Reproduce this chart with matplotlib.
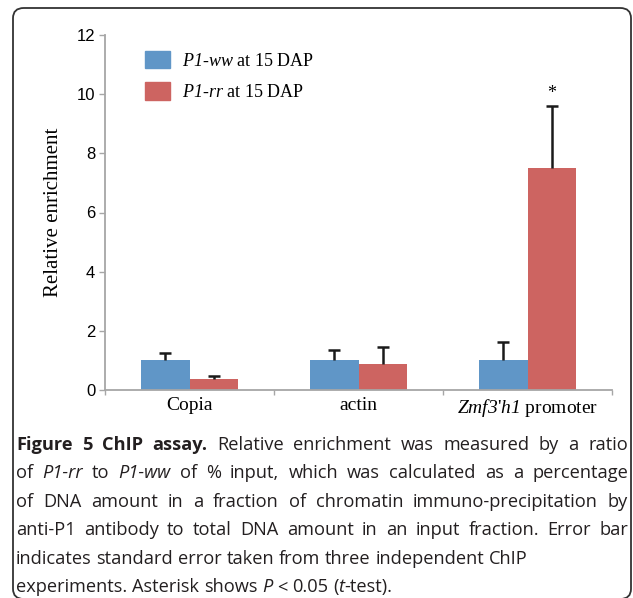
import numpy as np
import matplotlib

matplotlib.use("Agg")
import matplotlib.pyplot as plt
from matplotlib.patches import FancyBboxPatch, Patch

plt.rcParams["mathtext.fontset"] = "custom"
plt.rcParams["mathtext.rm"] = "Liberation Serif"
plt.rcParams["mathtext.sf"] = "Liberation Serif:italic"

# data
categories = ["Copia", "actin", r"$\mathsf{Zmf3}$'$\mathsf{h1}$ promoter"]
ww_values = [1.0, 1.0, 1.0]
ww_err = [0.25, 0.35, 0.62]
rr_values = [0.37, 0.87, 7.5]
rr_err = [0.10, 0.57, 2.1]
series_labels = [r"$\mathsf{P1\text{-}ww}$ at 15 DAP", r"$\mathsf{P1\text{-}rr}$ at 15 DAP"]
yticks = [0, 2, 4, 6, 8, 10, 12]

blue = "#6096c7"
red = "#cd6461"
axis_grey = "#a6a6a6"
err_col = "#1a1a1a"

W, H = 633, 598
fig = plt.figure(figsize=(W / 100, H / 100), dpi=100)

# rounded frame around the figure panel
frame = FancyBboxPatch((13 / W, -1 / H), (631 - 13) / W, (599 - 8) / H,
                       boxstyle="round,pad=0,rounding_size=0.017",
                       transform=fig.transFigure, fill=False,
                       edgecolor="#333333", linewidth=1.3)
fig.patches.append(frame)

ax = fig.add_axes([105 / W, 1 - 390 / H, (612 - 105) / W, (390 - 35) / H])
x = np.arange(len(categories))
bw = 0.285
ax.bar(x - bw / 2, ww_values, bw, color=blue)
ax.bar(x + bw / 2, rr_values, bw, color=red)

# upper error bars only (stem + top cap)
for xs, vals, errs in [(x - bw / 2, ww_values, ww_err), (x + bw / 2, rr_values, rr_err)]:
    tops = np.array(vals) + np.array(errs)
    ax.vlines(xs, vals, tops, color=err_col, linewidth=1.8, zorder=3)
    ax.plot(xs, tops, ls="none", marker="_", markersize=8, mew=1.8, color=err_col, zorder=3)

ax.text(x[2] + bw / 2, rr_values[2] + rr_err[2] + 0.15, "*", ha="center", va="bottom",
        fontsize=13, family="Liberation Serif")

ax.set_xlim(-0.5, 2.5)
ax.set_ylim(0, 12)
ax.set_yticks(yticks)
ax.set_yticklabels([str(t) for t in yticks], family="Liberation Sans", fontsize=12)
ax.set_xticks([-0.5, 0.5, 1.5, 2.5])
ax.set_xticklabels([])
ax.set_xticks(x, minor=True)
ax.set_xticklabels(categories, minor=True, family="Liberation Serif", fontsize=14)
ax.tick_params(axis="x", which="minor", length=0, pad=5)
ax.tick_params(axis="x", which="major", length=3.5, color=axis_grey, width=1)
ax.tick_params(axis="y", length=4, color=axis_grey, width=1, pad=3)
for s in ["top", "right"]:
    ax.spines[s].set_visible(False)
for s in ["left", "bottom"]:
    ax.spines[s].set_color(axis_grey)
    ax.spines[s].set_linewidth(1.3)
ax.set_ylabel("Relative enrichment", family="Liberation Serif", fontsize=15, labelpad=10)

handles = [Patch(color=blue), Patch(color=red)]
ax.legend(handles, series_labels, loc="upper left",
          bbox_to_anchor=(145 / W, 1 - 51 / H), bbox_transform=fig.transFigure,
          borderaxespad=0, borderpad=0, frameon=False,
          prop={"family": "Liberation Serif", "size": 13},
          handlelength=1.39, handleheight=1.1, labelspacing=0.7, handletextpad=0.67)

# caption, justified lines drawn word by word
N, B, I = "normal", "bold", "italic"
caption = [
    [[("Figure", B, N)], [("5", B, N)], [("ChIP", B, N)], [("assay.", B, N)],
     [("Relative", N, N)], [("enrichment", N, N)], [("was", N, N)], [("measured", N, N)],
     [("by", N, N)], [("a", N, N)], [("ratio", N, N)]],
    [[("of", N, N)], [("P1-rr", N, I)], [("to", N, N)], [("P1-ww", N, I)], [("of", N, N)],
     [("%", N, N)], [("input,", N, N)], [("which", N, N)], [("was", N, N)],
     [("calculated", N, N)], [("as", N, N)], [("a", N, N)], [("percentage", N, N)]],
    [[(w, N, N)] for w in "of DNA amount in a fraction of chromatin immuno-precipitation by".split()],
    [[(w, N, N)] for w in "anti-P1 antibody to total DNA amount in an input fraction. Error bar".split()],
    [[(w, N, N)] for w in "indicates standard error taken from three independent ChIP".split()],
    [[("experiments.", N, N)], [("Asterisk", N, N)], [("shows", N, N)], [("P", N, I)],
     [("<", N, N)], [("0.05", N, N)], [("(", N, N), ("t", N, I), ("-test).", N, N)]],
]
justify = [True, True, True, True, False, False]
x_left, x_right = 16, 628
y_first, line_gap = 445, 28.4
cap_font = "Open Sans"
renderer = fig.canvas.get_renderer()


def seg_width(s, weight, style, size):
    t = fig.text(0, 0, s, fontsize=size, weight=weight, style=style, family=cap_font)
    w = t.get_window_extent(renderer).width
    t.remove()
    return w


def natural_width(line, size):
    sp = seg_width("a a", N, N, size) - seg_width("aa", N, N, size)
    words = sum(sum(seg_width(*seg, size) for seg in word) for word in line)
    return words + sp * (len(line) - 1)


# size the caption font so the ragged fifth line ends where it does in the figure
fs = 13 * 510 / natural_width(caption[4], 13)
space_w = seg_width("a a", N, N, fs) - seg_width("aa", N, N, fs)
for li, line in enumerate(caption):
    widths = [[seg_width(*seg, fs) for seg in word] for word in line]
    total = sum(sum(ws) for ws in widths)
    gap = (x_right - x_left - total) / (len(line) - 1) if justify[li] else space_w
    xp = x_left
    yp = 1 - (y_first + li * line_gap) / H
    for word, ws in zip(line, widths):
        for (s, weight, style), w in zip(word, ws):
            fig.text(xp / W, yp, s, fontsize=fs, weight=weight, style=style,
                     family=cap_font, va="center", ha="left", color="#231f20")
            xp += w
        xp += gap

fig.savefig("out.png", dpi=100)
